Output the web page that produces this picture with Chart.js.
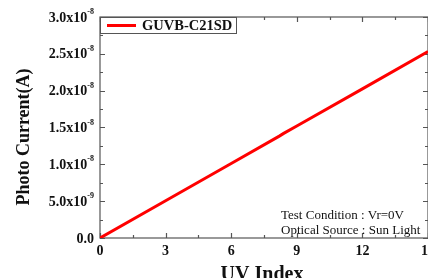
<!DOCTYPE html>
<html>
<head>
<meta charset="utf-8">
<script src="https://cdn.jsdelivr.net/npm/chart.js@4"></script>
<style>
  html, body { margin: 0; padding: 0; background: #fff; }
  #wrap { width: 428px; height: 278px; }
</style>
</head>
<body>
<div id="wrap"><canvas id="uvChart"></canvas></div>
<script>
// data
const seriesLabel = 'GUVB-C21SD';
const uvIndex = [0, 3, 6, 8.2, 8.4, 9, 12, 15];
const photoCurrent = [0, 0.506e-8, 1.012e-8, 1.383e-8, 1.42e-8, 1.52e-8, 2.025e-8, 2.53e-8];

const xTicks = [0, 3, 6, 9, 12, 15];
const yTicks = [0, 0.5e-8, 1.0e-8, 1.5e-8, 2.0e-8, 2.5e-8, 3.0e-8];
const yTickMain = ['0.0', '5.0x10', '1.0x10', '1.5x10', '2.0x10', '2.5x10', '3.0x10'];
const yTickExp = ['', '-9', '-8', '-8', '-8', '-8', '-8'];
const noteLines = ['Test Condition : Vr=0V', 'Optical Source : Sun Light'];

const serif = '"Liberation Serif", "Times New Roman", serif';
const axisColor = '#555';

// frame, inward ticks, labels, legend box and note
const framePlugin = {
  id: 'frame',
  beforeDatasetsDraw(chart) {
    const { ctx, chartArea: a, scales } = chart;
    const x = scales.x, y = scales.y;
    ctx.save();
    ctx.strokeStyle = axisColor;
    ctx.lineWidth = 1.2;
    ctx.strokeRect(a.left, a.top, a.right - a.left, a.bottom - a.top);

    ctx.beginPath();
    // x ticks (bottom and top), minor every 1.5
    for (let v = 0; v <= 15.001; v += 1.5) {
      const px = Math.round(x.getPixelForValue(v)) + 0.5;
      const len = (Math.abs(v / 3 - Math.round(v / 3)) < 0.01) ? 5 : 3;
      ctx.moveTo(px, a.bottom); ctx.lineTo(px, a.bottom - len);
      ctx.moveTo(px, a.top); ctx.lineTo(px, a.top + len);
    }
    // y ticks (left and right), minor every 0.25e-8
    for (let i = 0; i <= 12; i++) {
      const py = Math.round(y.getPixelForValue(i * 0.25e-8)) + 0.5;
      const len = i % 2 === 0 ? 5 : 3;
      ctx.moveTo(a.left, py); ctx.lineTo(a.left + len, py);
      ctx.moveTo(a.right, py); ctx.lineTo(a.right - len, py);
    }
    ctx.stroke();

    ctx.fillStyle = '#111';
    // x labels
    ctx.font = 'bold 14px ' + serif;
    ctx.textAlign = 'center';
    ctx.textBaseline = 'middle';
    xTicks.forEach(v => {
      ctx.fillText(String(v), x.getPixelForValue(v), a.bottom + 13);
    });

    // y labels with superscript exponent
    ctx.textAlign = 'left';
    yTicks.forEach((v, i) => {
      const py = y.getPixelForValue(v) + 1;
      ctx.font = 'bold 14px ' + serif;
      const mw = ctx.measureText(yTickMain[i]).width;
      ctx.font = 'bold 8px ' + serif;
      const ew = ctx.measureText(yTickExp[i]).width;
      const right = a.left - 6;
      ctx.font = 'bold 14px ' + serif;
      ctx.fillText(yTickMain[i], right - mw - ew, py);
      ctx.font = 'bold 8px ' + serif;
      ctx.fillText(yTickExp[i], right - ew, py - 6);
    });

    // axis titles
    ctx.font = 'bold 18px ' + serif;
    ctx.textAlign = 'center';
    ctx.save();
    ctx.translate(24, 137);
    ctx.rotate(-Math.PI / 2);
    ctx.fillText('Photo Current(A)', 0, 0);
    ctx.restore();
    ctx.font = 'bold 20px ' + serif;
    ctx.textBaseline = 'top';
    ctx.fillText('UV Index', (a.left + a.right) / 2 - 2, a.bottom + 27);
    ctx.restore();
  },
  afterDraw(chart) {
    const { ctx, chartArea: a } = chart;
    ctx.save();
    // legend box
    ctx.strokeStyle = axisColor;
    ctx.lineWidth = 1;
    ctx.fillStyle = '#fff';
    ctx.fillRect(a.left, a.top, 136, 16);
    ctx.strokeRect(a.left + 0.5, a.top + 0.5, 136, 16);
    ctx.strokeStyle = '#ff0000';
    ctx.lineWidth = 3;
    ctx.beginPath();
    ctx.moveTo(a.left + 7, a.top + 8.5);
    ctx.lineTo(a.left + 36, a.top + 8.5);
    ctx.stroke();
    ctx.fillStyle = '#111';
    ctx.font = 'bold 14.5px ' + serif;
    ctx.textAlign = 'left';
    ctx.textBaseline = 'middle';
    ctx.fillText(seriesLabel, a.left + 42, a.top + 9);

    // test note
    ctx.font = '13px ' + serif;
    ctx.textBaseline = 'alphabetic';
    ctx.fillText(noteLines[0], 281, 219);
    ctx.fillText(noteLines[1], 281, 234);
    ctx.restore();
  }
};

const ctx = document.getElementById('uvChart').getContext('2d');

const chart = new Chart(ctx, {
  type: 'scatter',
  data: {
    datasets: [
      {
        label: seriesLabel,
        data: uvIndex.map((u, i) => ({ x: u, y: photoCurrent[i] })),
        showLine: true,
        borderColor: '#ff0000',
        backgroundColor: '#ff0000',
        borderWidth: 3,
        pointRadius: 0,
        tension: 0
      }
    ]
  },
  options: {
    responsive: true,
    maintainAspectRatio: false,
    animation: false,
    layout: { padding: { top: 17, right: 0, bottom: 0, left: 0 } },
    plugins: {
      legend: { display: false },
      tooltip: { enabled: false }
    },
    scales: {
      x: {
        type: 'linear',
        min: 0,
        max: 15,
        grid: { display: false },
        border: { display: false },
        ticks: { display: false },
        afterFit: s => { s.height = 40; }
      },
      y: {
        min: 0,
        max: 3e-8,
        grid: { display: false },
        border: { display: false },
        ticks: { display: false },
        afterFit: s => { s.width = 100; }
      }
    }
  },
  plugins: [framePlugin]
});
</script>
</body>
</html>
